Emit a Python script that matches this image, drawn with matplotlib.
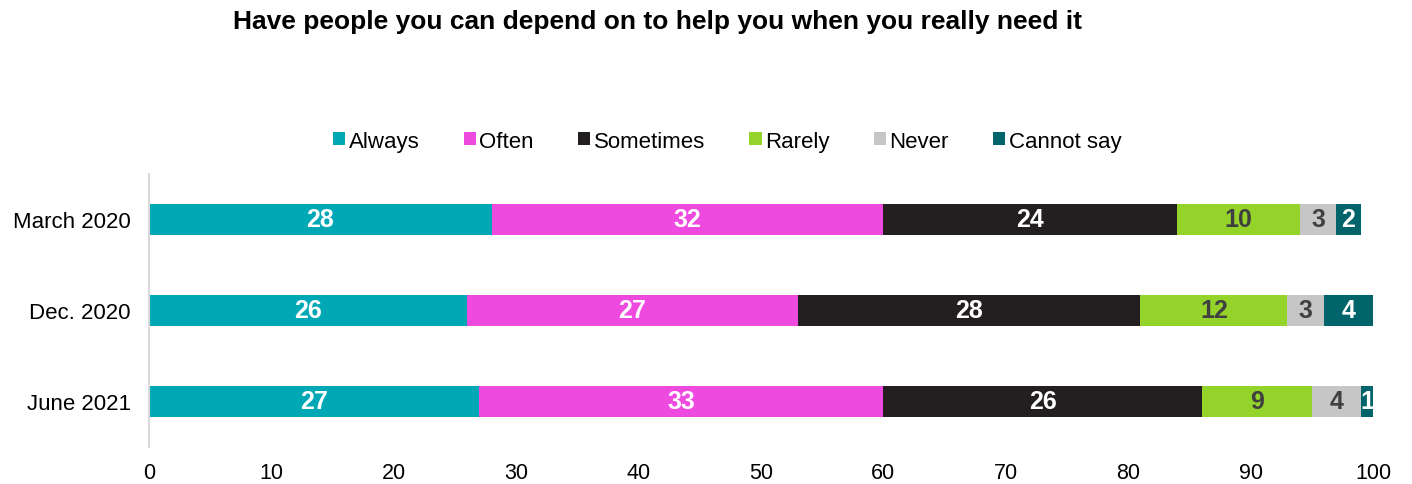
import numpy as np
import matplotlib.pyplot as plt

plt.rcParams['font.family'] = ['Liberation Sans', 'DejaVu Sans']

# Survey waves and answer shares (%)
waves = ['March 2020', 'Dec. 2020', 'June 2021']
answers = ['Always', 'Often', 'Sometimes', 'Rarely', 'Never', 'Cannot say']
always = [28, 26, 27]
often = [32, 27, 33]
sometimes = [24, 28, 26]
rarely = [10, 12, 9]
never = [3, 3, 4]
cannot_say = [2, 4, 1]

series = [always, often, sometimes, rarely, never, cannot_say]
colors = ['#00a8b6', '#ee4ae0', '#231f20', '#94d42a', '#c6c6c6', '#00646a']
text_colors = ['white', 'white', 'white', '#404040', '#404040', 'white']

fig = plt.figure(figsize=(14.12, 4.85), dpi=100)
ax = fig.add_axes([0.1055, 0.0763, 0.8669, 0.5629])

y = np.arange(len(waves))
left = np.zeros(len(waves))
for name, vals, col, tcol in zip(answers, series, colors, text_colors):
    vals = np.array(vals, dtype=float)
    ax.barh(y, vals, left=left, height=0.35, color=col, label=name)
    for yi, l, v in zip(y, left, vals):
        ax.text(l + v / 2, yi, f'{int(v)}', ha='center', va='center',
                color=tcol, fontsize=18, fontweight='bold')
    left += vals

ax.set_ylim(2.5, -0.5)
ax.set_xlim(0, 100)
ax.set_yticks(y)
ax.set_yticklabels(waves, fontsize=16)
ax.set_xticks(np.arange(0, 101, 10))
ax.tick_params(axis='x', labelsize=15.5, length=0, pad=11)
ax.tick_params(axis='y', length=0, pad=13)
for s in ['top', 'right', 'bottom']:
    ax.spines[s].set_visible(False)
ax.spines['left'].set_color('#d9d9d9')
ax.spines['left'].set_linewidth(1.5)

fig.text(0.4655, 0.955, 'Have people you can depend on to help you when you really need it',
         ha='center', va='center', fontsize=19, fontweight='bold')

fig.legend(loc='center', bbox_to_anchor=(0.515, 0.707), ncol=6, frameon=False,
           fontsize=16, handlelength=0.55, handleheight=0.55, handletextpad=0.15,
           columnspacing=2.0)

fig.savefig('out.png', dpi=100)
